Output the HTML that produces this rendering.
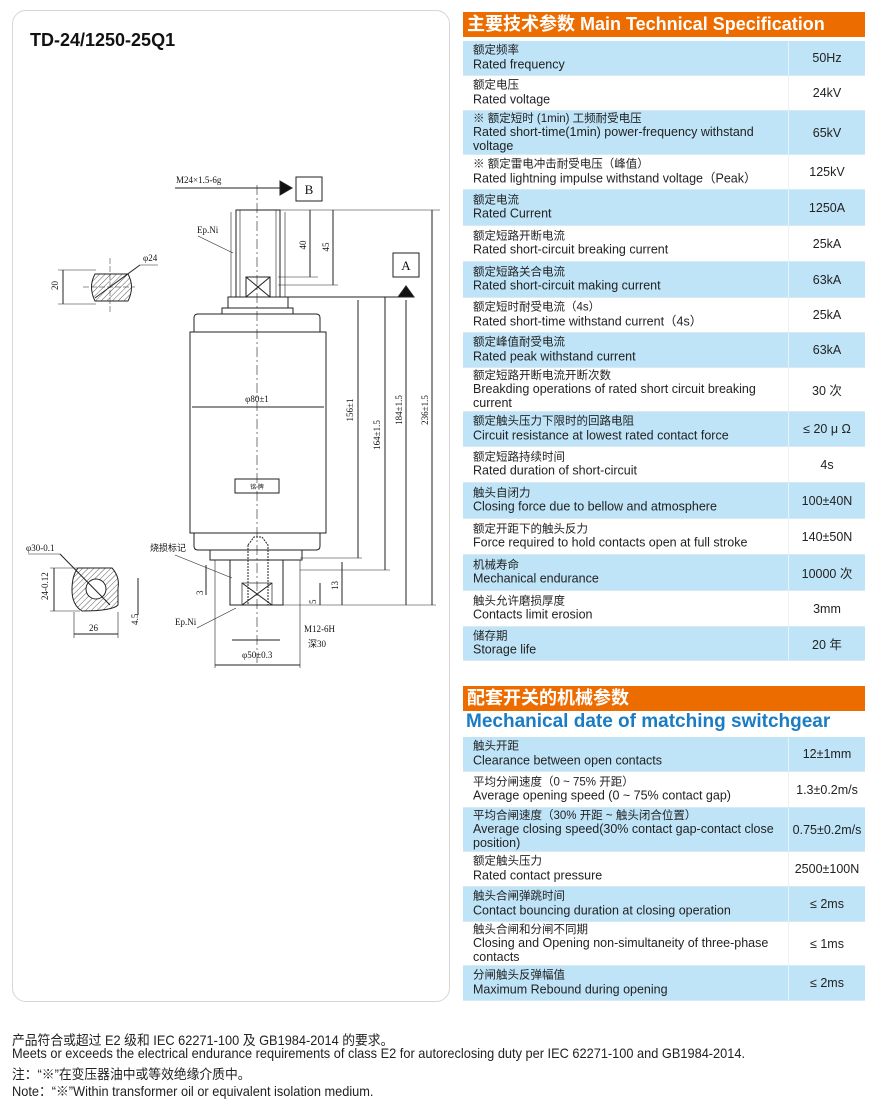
<!DOCTYPE html>
<html><head><meta charset="utf-8">
<style>
*{margin:0;padding:0;box-sizing:border-box}
body{width:875px;height:1102px;background:#fff;position:relative;overflow:hidden;font-family:"Liberation Sans","Noto Sans CJK SC",sans-serif;color:#222}
.panel{position:absolute;left:12px;top:10px;width:438px;height:992px;border:1px solid #d6d6d6;border-radius:14px}
.title{position:absolute;left:30px;top:30px;font-size:18px;font-weight:bold;color:#111}
.hdr{position:absolute;left:463px;width:402px;background:#ec6c00;color:#fff;font-weight:bold;font-size:18px;padding-left:4px;line-height:25px;white-space:nowrap}
.sub{position:absolute;left:466px;top:711px;color:#1a7cc4;font-weight:bold;font-size:19px}
.r{position:absolute;left:463px;width:402px;border-bottom:1px solid #d8eaf4}
.r.b{background:#bfe4f7}
.r .t{position:absolute;left:10px;right:80px;top:50%;transform:translateY(-50%);font-size:12.5px;line-height:13.5px}
.r .t span{font-size:11.5px;display:block}
.r .v{position:absolute;left:325px;right:0;top:0;bottom:0;border-left:1px solid #e8f3f9;display:flex;align-items:center;justify-content:center;font-size:12.5px}
.foot{position:absolute;left:12px;font-size:13.6px;color:#222;transform:scaleX(0.94);transform-origin:left;white-space:nowrap}
</style></head><body>
<div class="panel"></div>
<div class="title">TD-24/1250-25Q1</div>

<svg style="position:absolute;left:0;top:0" width="460" height="1000" font-family="Liberation Serif,serif" font-size="9" fill="none" stroke="#222" stroke-width="1">
<defs><pattern id="h" width="4" height="4" patternUnits="userSpaceOnUse" patternTransform="rotate(45)"><line x1="0" y1="0" x2="0" y2="4" stroke="#333" stroke-width="0.8"/></pattern></defs>
<line x1="175" y1="188" x2="280" y2="188"/>
<polygon points="280,181 292,188 280,195" fill="#111"/>
<rect x="296" y="177" width="26" height="24" fill="#fff"/>
<text x="309" y="194" font-size="13" fill="#111" stroke="none" text-anchor="middle">B</text>
<text x="176" y="183" fill="#111" stroke="none">M24×1.5-6g</text>
<rect x="393" y="253" width="26" height="24"/>
<text x="406" y="270" font-size="13" fill="#111" stroke="none" text-anchor="middle">A</text>
<polygon points="398,297 406,286 414,297" fill="#111"/>
<line x1="288" y1="297" x2="414" y2="297"/>
<line x1="257" y1="185" x2="257" y2="665" stroke-dasharray="10,3,2,3" stroke-width="0.6"/>
<rect x="236" y="210" width="44" height="87"/>
<line x1="240" y1="210" x2="240" y2="297" stroke-width="0.6"/>
<line x1="276" y1="210" x2="276" y2="297" stroke-width="0.6"/>
<line x1="231" y1="212" x2="231" y2="297" stroke-width="0.6"/>
<line x1="285" y1="212" x2="285" y2="297" stroke-width="0.6"/>
<rect x="246" y="277" width="24" height="20"/>
<line x1="246" y1="277" x2="270" y2="297"/><line x1="270" y1="277" x2="246" y2="297"/>
<rect x="228" y="297" width="60" height="11"/>
<path d="M222,314 L222,308 L293,308 L293,314"/>
<path d="M194,332 L194,318 Q194,314 198,314 L316,314 Q320,314 320,318 L320,332"/>
<rect x="190" y="332" width="136" height="201"/>
<rect x="235" y="479" width="44" height="14"/>
<text x="257" y="489" font-size="6" fill="#111" stroke="none" text-anchor="middle">铭 牌</text>
<path d="M194,533 L194,546 Q194,550 198,550 L316,550 Q320,550 320,546 L320,533"/>
<path d="M210,550 L210,560 L302,560 L302,550"/>
<path d="M230,560 L230,605 L283,605 L283,560"/>
<rect x="242" y="583" width="30" height="22" stroke-width="0.7"/>
<line x1="242" y1="583" x2="272" y2="605"/><line x1="272" y1="583" x2="242" y2="605"/>
<path d="M248,545 L254,537 L262,537 L268,545 L268,605 M248,545 L248,605" stroke-dasharray="2,1"/>
<line x1="192" y1="407" x2="324" y2="407"/>
<text x="257" y="402" fill="#111" stroke="none" text-anchor="middle">φ80±1</text>
<line x1="280" y1="210" x2="440" y2="210" stroke-width="0.6"/>
<line x1="310" y1="210" x2="310" y2="277"/><line x1="278" y1="277" x2="318" y2="277" stroke-width="0.6"/>
<line x1="333" y1="210" x2="333" y2="285"/><line x1="278" y1="285" x2="338" y2="285" stroke-width="0.6"/>
<text x="306" y="245" fill="#111" stroke="none" transform="rotate(-90 306 245)" text-anchor="middle">40</text>
<text x="329" y="247" fill="#111" stroke="none" transform="rotate(-90 329 247)" text-anchor="middle">45</text>
<line x1="358" y1="300" x2="358" y2="558"/><line x1="300" y1="558" x2="362" y2="558" stroke-width="0.6"/>
<line x1="385" y1="297" x2="385" y2="570"/><line x1="300" y1="570" x2="390" y2="570" stroke-width="0.6"/>
<line x1="406" y1="300" x2="406" y2="605"/><line x1="283" y1="605" x2="436" y2="605" stroke-width="0.6"/>
<line x1="432" y1="210" x2="432" y2="605"/>
<text x="353" y="410" fill="#111" stroke="none" transform="rotate(-90 353 410)" text-anchor="middle">156±1</text>
<text x="380" y="435" fill="#111" stroke="none" transform="rotate(-90 380 435)" text-anchor="middle">164±1.5</text>
<text x="402" y="410" fill="#111" stroke="none" transform="rotate(-90 402 410)" text-anchor="middle">184±1.5</text>
<text x="428" y="410" fill="#111" stroke="none" transform="rotate(-90 428 410)" text-anchor="middle">236±1.5</text>
<line x1="342" y1="562" x2="342" y2="605"/><line x1="320" y1="583" x2="320" y2="605"/>
<text x="338" y="590" fill="#111" stroke="none" transform="rotate(-90 338 590)">13</text>
<text x="316" y="604" fill="#111" stroke="none" transform="rotate(-90 316 604)">5</text>
<text x="304" y="632" fill="#111" stroke="none">M12-6H</text>
<text x="308" y="647" fill="#111" stroke="none">深30</text>
<line x1="232" y1="640" x2="280" y2="640"/>
<line x1="215" y1="665" x2="300" y2="665"/>
<line x1="215" y1="560" x2="215" y2="668" stroke-width="0.6"/><line x1="300" y1="560" x2="300" y2="668" stroke-width="0.6"/>
<text x="242" y="658" fill="#111" stroke="none">φ50±0.3</text>
<text x="150" y="551" fill="#111" stroke="none">烧损标记</text>
<line x1="175" y1="555" x2="232" y2="578" stroke-width="0.6"/>
<text x="175" y="625" fill="#111" stroke="none">Ep.Ni</text>
<line x1="197" y1="628" x2="236" y2="608" stroke-width="0.6"/>
<text x="197" y="233" fill="#111" stroke="none">Ep.Ni</text>
<line x1="198" y1="236" x2="233" y2="253" stroke-width="0.6"/>
<line x1="206" y1="565" x2="206" y2="595"/><text x="203" y="595" fill="#111" stroke="none" transform="rotate(-90 203 595)">3</text>
<path d="M95,274 Q88,287 95,301 L128,301 Q135,287 128,274 Z" fill="url(#h)"/>
<line x1="58" y1="270" x2="96" y2="270" stroke-width="0.6"/><line x1="58" y1="304" x2="96" y2="304" stroke-width="0.6"/>
<line x1="63" y1="270" x2="63" y2="304"/>
<text x="58" y="290" fill="#111" stroke="none" transform="rotate(-90 58 290)">20</text>
<line x1="95" y1="298" x2="140" y2="265"/><line x1="140" y1="265" x2="158" y2="265" stroke-width="0.6"/>
<text x="143" y="261" fill="#111" stroke="none">φ24</text>
<line x1="110" y1="258" x2="110" y2="312" stroke-width="0.5" stroke-dasharray="6,2"/>
<line x1="83" y1="287" x2="135" y2="287" stroke-width="0.5" stroke-dasharray="6,2"/>
<path d="M78,568 L112,568 Q120,577 118,588 L118,605 Q112,611 82,611 Q72,605 72,590 Q72,575 78,568 Z" fill="url(#h)"/>
<circle cx="96" cy="589" r="10" fill="#fff"/>
<line x1="50" y1="568" x2="80" y2="568" stroke-width="0.6"/><line x1="50" y1="611" x2="80" y2="611" stroke-width="0.6"/>
<line x1="54" y1="568" x2="54" y2="611"/>
<text x="48" y="600" fill="#111" stroke="none" transform="rotate(-90 48 600)">24-0.12</text>
<line x1="74" y1="612" x2="74" y2="638" stroke-width="0.6"/><line x1="118" y1="612" x2="118" y2="638" stroke-width="0.6"/>
<line x1="74" y1="634" x2="118" y2="634"/>
<text x="89" y="631" fill="#111" stroke="none">26</text>
<line x1="138" y1="578" x2="138" y2="615"/>
<text x="138" y="625" fill="#111" stroke="none" transform="rotate(-90 138 625)">4.5</text>
<text x="26" y="551" fill="#111" stroke="none">φ30-0.1</text>
<line x1="28" y1="554" x2="60" y2="554" stroke-width="0.6"/><line x1="60" y1="554" x2="110" y2="605"/>
</svg>

<div class="hdr" style="top:12px;height:25px">主要技术参数 Main Technical Specification</div>

<div class="r b" style="top:41px;height:35px"><div class="t"><span>额定频率</span>Rated frequency</div><div class="v">50Hz</div></div>
<div class="r" style="top:76px;height:35px"><div class="t"><span>额定电压</span>Rated voltage</div><div class="v">24kV</div></div>
<div class="r b" style="top:111px;height:44px"><div class="t"><span>※ 额定短时 (1min) 工频耐受电压</span>Rated short-time(1min) power-frequency withstand voltage</div><div class="v">65kV</div></div>
<div class="r" style="top:155px;height:35px"><div class="t"><span>※ 额定雷电冲击耐受电压（峰值）</span>Rated lightning impulse withstand voltage（Peak）</div><div class="v">125kV</div></div>
<div class="r b" style="top:190px;height:36px"><div class="t"><span>额定电流</span>Rated Current</div><div class="v">1250A</div></div>
<div class="r" style="top:226px;height:36px"><div class="t"><span>额定短路开断电流</span>Rated short-circuit breaking current</div><div class="v">25kA</div></div>
<div class="r b" style="top:262px;height:36px"><div class="t"><span>额定短路关合电流</span>Rated short-circuit making current</div><div class="v">63kA</div></div>
<div class="r" style="top:298px;height:35px"><div class="t"><span>额定短时耐受电流（4s）</span>Rated short-time withstand current（4s）</div><div class="v">25kA</div></div>
<div class="r b" style="top:333px;height:35px"><div class="t"><span>额定峰值耐受电流</span>Rated peak withstand current</div><div class="v">63kA</div></div>
<div class="r" style="top:368px;height:44px"><div class="t"><span>额定短路开断电流开断次数</span>Breakding operations of rated short circuit breaking current</div><div class="v">30 次</div></div>
<div class="r b" style="top:412px;height:35px"><div class="t"><span>额定触头压力下限时的回路电阻</span>Circuit resistance at lowest rated contact force</div><div class="v">≤ 20 μ Ω</div></div>
<div class="r" style="top:447px;height:36px"><div class="t"><span>额定短路持续时间</span>Rated duration of short-circuit</div><div class="v">4s</div></div>
<div class="r b" style="top:483px;height:36px"><div class="t"><span>触头自闭力</span>Closing force due to bellow and atmosphere</div><div class="v">100±40N</div></div>
<div class="r" style="top:519px;height:36px"><div class="t"><span>额定开距下的触头反力</span>Force required to hold contacts open at full stroke</div><div class="v">140±50N</div></div>
<div class="r b" style="top:555px;height:36px"><div class="t"><span>机械寿命</span>Mechanical endurance</div><div class="v">10000 次</div></div>
<div class="r" style="top:591px;height:36px"><div class="t"><span>触头允许磨损厚度</span>Contacts limit erosion</div><div class="v">3mm</div></div>
<div class="r b" style="top:627px;height:34px"><div class="t"><span>储存期</span>Storage life</div><div class="v">20 年</div></div>

<div class="hdr" style="top:686px;height:25px">配套开关的机械参数</div>
<div class="sub">Mechanical date of matching switchgear</div>

<div class="r b" style="top:737px;height:35px"><div class="t"><span>触头开距</span>Clearance between open contacts</div><div class="v">12±1mm</div></div>
<div class="r" style="top:772px;height:36px"><div class="t"><span>平均分闸速度（0 ~ 75% 开距）</span>Average opening speed (0 ~ 75% contact gap)</div><div class="v">1.3±0.2m/s</div></div>
<div class="r b" style="top:808px;height:44px"><div class="t"><span>平均合闸速度（30% 开距 ~ 触头闭合位置）</span>Average closing speed(30% contact gap-contact close position)</div><div class="v">0.75±0.2m/s</div></div>
<div class="r" style="top:852px;height:35px"><div class="t"><span>额定触头压力</span>Rated contact pressure</div><div class="v">2500±100N</div></div>
<div class="r b" style="top:887px;height:35px"><div class="t"><span>触头合闸弹跳时间</span>Contact bouncing duration at closing operation</div><div class="v">≤ 2ms</div></div>
<div class="r" style="top:922px;height:44px"><div class="t"><span>触头合闸和分闸不同期</span>Closing and Opening non-simultaneity of three-phase contacts</div><div class="v">≤ 1ms</div></div>
<div class="r b" style="top:966px;height:35px"><div class="t"><span>分闸触头反弹幅值</span>Maximum Rebound during opening</div><div class="v">≤ 2ms</div></div>

<div class="foot" style="top:1029px">产品符合或超过 E2 级和 IEC 62271-100 及 GB1984-2014 的要求。</div>
<div class="foot" style="top:1046px">Meets or exceeds the electrical endurance requirements of class E2 for autoreclosing duty per IEC 62271-100 and GB1984-2014.</div>
<div class="foot" style="top:1063px">注：“※”在变压器油中或等效绝缘介质中。</div>
<div class="foot" style="top:1080px">Note：“※”Within transformer oil or equivalent isolation medium.</div>
</body></html>
